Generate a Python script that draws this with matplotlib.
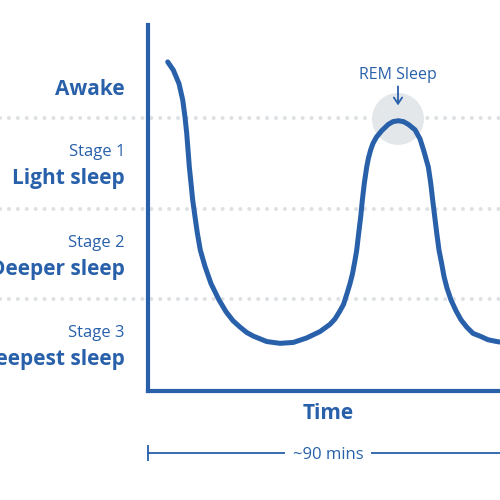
import matplotlib.pyplot as plt

BLUE = "#2860aa"
GREY_DOT = "#dde1e4"

# sleep cycle curve: minutes vs stage level (3 = awake boundary)
minutes = [4.93, 6.33, 7.75, 8.68, 9.25, 9.68, 10.0, 10.33, 10.75, 11.18, 11.75, 12.33,
           13.08, 14.25, 15.75, 17.75, 19.5, 21.25, 23.0, 24.68, 26.33, 29.68, 33.0,
           36.33, 39.68, 43.0, 45.5, 46.75, 47.88, 48.88, 49.75, 50.5, 51.13, 51.68,
           52.18, 52.68, 53.18, 53.58, 54.08, 54.68, 55.13, 55.68, 56.25, 57.13, 58.43,
           60.08, 61.25, 62.58, 63.88, 65.08, 66.75, 68.0, 69.0, 69.75, 70.08, 70.68,
           71.18, 71.68, 72.18, 72.75, 73.38, 74.0, 74.75, 75.75, 77.0, 78.25, 79.68,
           81.25, 83.0, 85.0, 87.18, 91.75]
level = [3.62, 3.53, 3.38, 3.20, 3.01, 2.83, 2.65, 2.46, 2.28, 2.09, 1.91, 1.73,
         1.54, 1.36, 1.17, 0.99, 0.86, 0.76, 0.69, 0.63, 0.59, 0.53, 0.51,
         0.52, 0.57, 0.64, 0.72, 0.78, 0.86, 0.94, 1.06, 1.17, 1.28, 1.41,
         1.54, 1.73, 1.91, 2.09, 2.28, 2.46, 2.56, 2.65, 2.72, 2.79, 2.86,
         2.93, 2.96, 2.97, 2.96, 2.93, 2.87, 2.77, 2.63, 2.51, 2.46, 2.28,
         2.09, 1.91, 1.73, 1.54, 1.40, 1.25, 1.12, 0.99, 0.87, 0.77, 0.69,
         0.62, 0.59, 0.55, 0.53, 0.50]

stage_bounds = [1, 2, 3]
stage_centers = [2.5, 1.5, 0.5]
stage_numbers = ["Stage 1", "Stage 2", "Stage 3"]
stage_names = ["Light sleep", "Deeper sleep", "Deepest sleep"]
rem_minute = 62.5
rem_level = 3.0
cycle_length = 90

plt.rcParams["font.family"] = ["Open Sans", "DejaVu Sans"]

fig = plt.figure(figsize=(5, 5), dpi=100)
ax = fig.add_axes([0.296, 0.218, 0.704, 0.732])
ax.set_xlim(0, 88)
ax.set_ylim(-0.0166, 4.028)
for side in ["top", "right"]:
    ax.spines[side].set_visible(False)
for side in ["left", "bottom"]:
    ax.spines[side].set_color(BLUE)
    ax.spines[side].set_linewidth(3.0)
    ax.spines[side].set_zorder(5)
ax.set_xticks([])
ax.set_yticks([])

# dotted stage boundaries, running across the whole picture
ax.hlines(stage_bounds, -37, 88, colors=GREY_DOT, linewidth=2.9,
          linestyles=(0, (0.01, 2.2)), clip_on=False, zorder=1)
for line in ax.collections:
    line.set_capstyle("round")

# grey highlight behind the REM peak
ax.scatter([rem_minute], [rem_level - 0.01], s=1400, color="#e4e7e9", zorder=2,
           edgecolors="none", clip_on=False)

ax.plot(minutes, level, color=BLUE, linewidth=3.6, solid_capstyle="round",
        solid_joinstyle="round", clip_on=False, zorder=4)

# REM annotation
ax.text(rem_minute, 3.43, "REM Sleep", color=BLUE, fontsize=11.5, ha="center",
        va="baseline")
ax.annotate("", xy=(rem_minute, 3.14), xytext=(rem_minute, 3.35),
            arrowprops=dict(arrowstyle="->,head_length=0.45,head_width=0.3",
                            color=BLUE, lw=1.3, shrinkA=0, shrinkB=0),
            annotation_clip=False)

# stage labels on the left
ax.text(-5.75, 3.25, "Awake", color=BLUE, fontsize=15, fontweight="bold",
        ha="right", va="baseline", clip_on=False)
for c, num, name in zip(stage_centers, stage_numbers, stage_names):
    ax.text(-5.75, c + 0.08, num, color=BLUE, fontsize=12, ha="right",
            va="baseline", clip_on=False)
    ax.text(-5.75, c - 0.23, name, color=BLUE, fontsize=15, fontweight="bold",
            ha="right", va="baseline", clip_on=False)

# time axis label and cycle bracket
ax.text(cycle_length / 2, -0.33, "Time", color=BLUE, fontsize=15, fontweight="bold",
        ha="center", va="baseline", clip_on=False)
ax.plot([0, cycle_length], [-0.70, -0.70], color=BLUE, linewidth=1.3, clip_on=False)
ax.plot([0], [-0.70], marker="|", markersize=12, markeredgewidth=1.3, color=BLUE,
        clip_on=False)
ax.text(cycle_length / 2, -0.77, "~90 mins", color=BLUE, fontsize=12, ha="center",
        va="baseline", clip_on=False,
        bbox=dict(boxstyle="square,pad=0.45", fc="white", ec="none"))

fig.savefig("out.png", dpi=100)
